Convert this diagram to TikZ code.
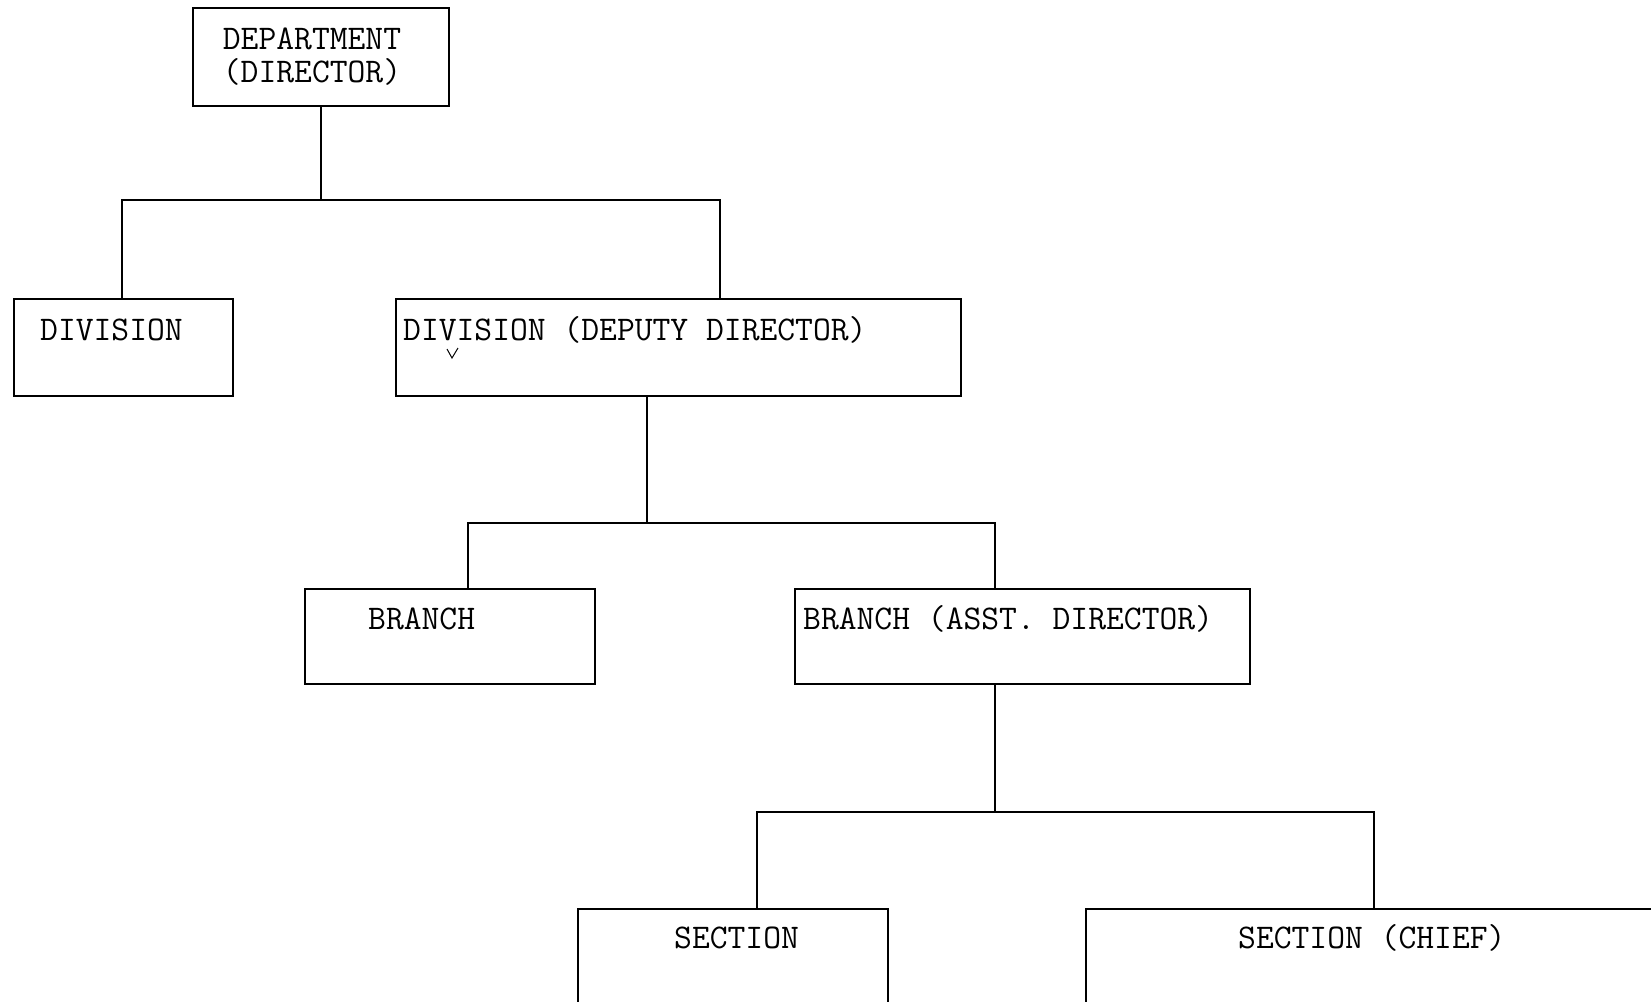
\documentclass[tikz,border=0pt]{standalone}
\usepackage{fontspec}
\begin{document}
\begin{tikzpicture}[x=1pt,y=-1pt,
  orgbox/.style={draw, line width=1.5pt, inner sep=0pt, anchor=north west},
  boxtext/.style={font=\ttfamily\fontsize{34.6}{33}\selectfont, inner sep=0pt, anchor=base west},
  conn/.style={line width=1.2pt}]
\clip (0,0) rectangle (1651,1001);
\fill[white] (0,0) rectangle (1651,1001);

% boxes
\node[orgbox, minimum width=256pt, minimum height=98pt] (dept) at (192,7) {};
\node[orgbox, minimum width=219pt, minimum height=97pt] (div) at (13,298) {};
\node[orgbox, minimum width=565pt, minimum height=97pt] (dep) at (395,298) {};
\node[orgbox, minimum width=290pt, minimum height=95pt] (br) at (304,588) {};
\node[orgbox, minimum width=455pt, minimum height=95pt] (asst) at (794,588) {};
\node[orgbox, minimum width=310pt, minimum height=130pt] (sec) at (577,908) {};
\node[orgbox, minimum width=620pt, minimum height=130pt] (chief) at (1085,908) {};

% texts
\node[boxtext, anchor=center, align=center] (tdept) at (312,57) {DEPARTMENT\\(DIRECTOR)};
\node[boxtext] (tdiv) at (40,340) {DIVISION};
\node[boxtext] (tdep) at (403,340) {DIVISION (DEPUTY DIRECTOR)};
\node[boxtext] (tbr) at (368,629) {BRANCH};
\node[boxtext] (tasst) at (803,629) {BRANCH (ASST. DIRECTOR)};
\node[boxtext] (tsec) at (674,948) {SECTION};
\node[boxtext] (tchief) at (1238,948) {SECTION (CHIEF)};

% handwritten correction mark
\draw[line width=1pt] (447,349) -- (452,358) -- (458,348);

% connectors
\coordinate (b1) at (321,200);
\coordinate (b2) at (647,523);
\coordinate (b3) at (995,812);
\draw[conn] ([xshift=129pt]dept.south west) -- (b1);
\draw[conn] ([xshift=109pt]div.north west) |- (b1) -| ([xshift=325pt]dep.north west);
\draw[conn] ([xshift=252pt]dep.south west) -- (b2);
\draw[conn] ([xshift=164pt]br.north west) |- (b2) -| ([xshift=201pt]asst.north west);
\draw[conn] ([xshift=201pt]asst.south west) -- (b3);
\draw[conn] ([xshift=180pt]sec.north west) |- (b3) -| ([xshift=289pt]chief.north west);
\end{tikzpicture}
\end{document}
